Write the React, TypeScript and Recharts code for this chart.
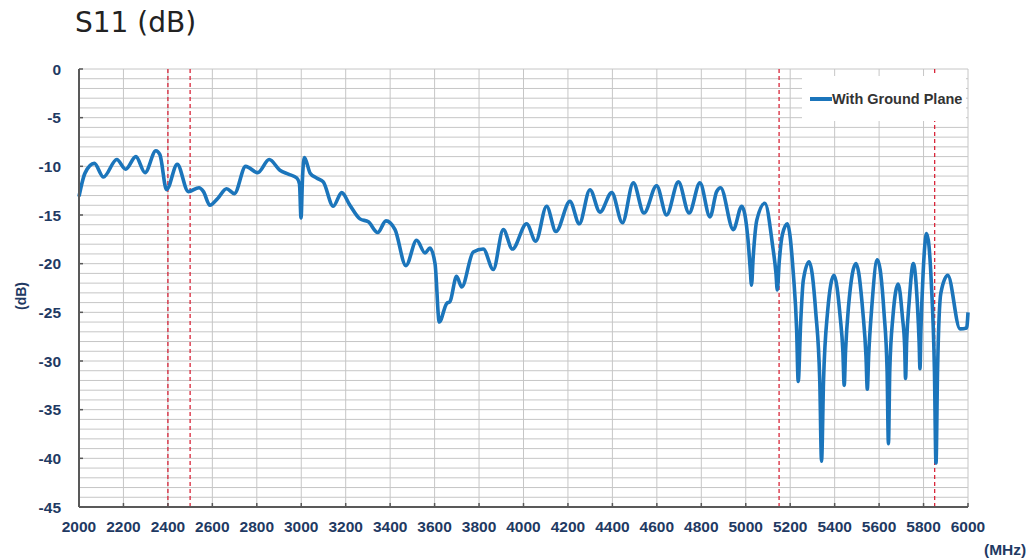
import { LineChart, Line, XAxis, YAxis, CartesianGrid, ReferenceLine, Legend, Label } from "recharts";

// frecuencias (MHz)
const frecuencias = [
  2000, 2027, 2069, 2110, 2170, 2210, 2256, 2297, 2346, 2364, 2394, 2442, 2492, 2540, 2560, 2589,
  2624, 2664, 2699, 2750, 2804, 2856, 2904, 2942, 2980, 2992, 2999, 3006, 3014, 3040, 3069, 3099,
  3144, 3182, 3219, 3264, 3302, 3344, 3381, 3422, 3471, 3519, 3557, 3579, 3602, 3621, 3654, 3669,
  3699, 3722, 3774, 3819, 3864, 3909, 3950, 4014, 4055, 4104, 4146, 4209, 4251, 4299, 4344, 4397,
  4445, 4494, 4542, 4599, 4644, 4697, 4745, 4794, 4839, 4869, 4887, 4944, 4982, 5010, 5020, 5026,
  5033, 5050, 5086, 5120, 5136, 5142, 5150, 5165, 5187, 5214, 5229, 5236, 5247, 5259, 5285, 5315,
  5333, 5341, 5350, 5368, 5397, 5425, 5437, 5443, 5449, 5462, 5496, 5527, 5541, 5547, 5553, 5567,
  5592, 5622, 5636, 5642, 5648, 5662, 5686, 5705, 5715, 5719, 5724, 5735, 5754, 5773, 5780, 5784,
  5788, 5798, 5814, 5835, 5849, 5856, 5863, 5878, 5909, 5964, 5994, 6000,
];

// S11 con plano de masa (dB)
const conPlanoMasa = [
  -13.1, -10.7, -9.7, -11.1, -9.3, -10.3, -9.0, -10.65, -8.4, -8.8, -12.4, -9.8, -12.6, -12.2, -12.6, -14.0,
  -13.3, -12.3, -12.8, -10.0, -10.65, -9.3, -10.4, -10.8, -11.2, -11.8, -15.3, -11.0, -9.1, -10.7, -11.2, -11.6,
  -14.1, -12.7, -14.0, -15.4, -15.7, -16.8, -15.6, -16.5, -20.2, -17.6, -18.9, -18.4, -20.0, -26.0, -24.1, -23.9,
  -21.3, -22.4, -18.8, -18.5, -20.6, -16.5, -18.5, -15.9, -17.7, -14.1, -16.7, -13.6, -15.9, -12.4, -14.7, -12.7,
  -15.8, -11.7, -14.8, -12.0, -15.0, -11.6, -14.8, -11.7, -15.2, -12.6, -12.2, -16.5, -14.1, -17.5, -20.5, -22.2,
  -19.5, -15.5, -13.8, -18.0, -21.0, -22.7, -20.0, -17.0, -15.9, -21.0, -26.8, -32.1, -26.1, -21.7, -19.8, -25.0,
  -32.0, -40.3, -32.0, -25.0, -21.2, -25.5, -29.0, -32.5, -29.0, -24.5, -20.0, -25.0, -29.5, -32.9, -29.5, -24.5,
  -19.6, -25.0, -31.0, -38.5, -31.0, -25.5, -22.1, -25.5, -28.5, -31.8, -28.0, -24.0, -20.0, -24.5, -28.0, -30.8,
  -27.0, -21.0, -16.9, -22.0, -31.0, -40.5, -31.0, -23.0, -21.2, -26.7, -26.6, -25.0,
];

const ticksX = [2000, 2200, 2400, 2600, 2800, 3000, 3200, 3400, 3600, 3800, 4000, 4200, 4400, 4600, 4800, 5000, 5200, 5400, 5600, 5800, 6000];
const ticksYPrincipales = [0, -5, -10, -15, -20, -25, -30, -35, -40, -45];
// bandas marcadas con lineas rojas
const limitesBanda = [2400, 2500, 5150, 5850];
const nombreSerie = "With Ground Plane";

// lineas de rejilla cada 1 dB
const ticksY: number[] = [];
for (let v = 0; v >= -45; v--) ticksY.push(v);

const datos = frecuencias.map((f, i) => ({ f, s11: conPlanoMasa[i] }));

const azulTexto = "#1f3a63";
const colorEje = "#595959";
const fuenteEjes = { fontFamily: "'Liberation Sans', Arial, sans-serif", fontSize: 15.5, fontWeight: 700, fill: azulTexto };

// etiqueta del eje X con su marca hacia dentro
function TickX(props: any) {
  const { x, y, payload } = props;
  return (
    <g>
      <line x1={x} x2={x} y1={y - 14} y2={y - 18} stroke={colorEje} strokeWidth={1.5} />
      <text x={x} y={y} dy="0.71em" textAnchor="middle" style={fuenteEjes}>{payload.value}</text>
    </g>
  );
}

// etiqueta del eje Y, solo cada 5 dB
function TickY(props: any) {
  const { x, y, payload } = props;
  if (!ticksYPrincipales.includes(payload.value)) return <g />;
  return (
    <g>
      <line x1={x + 18} x2={x + 22} y1={y} y2={y} stroke={colorEje} strokeWidth={1.5} />
      <text x={x} y={y} dy="0.355em" textAnchor="end" style={fuenteEjes}>{payload.value}</text>
    </g>
  );
}

function Leyenda() {
  return (
    <div style={{
      background: "#fff",
      width: 164,
      height: 45,
      display: "flex",
      alignItems: "center",
      fontFamily: "'Liberation Sans', Arial, sans-serif",
      fontWeight: 700,
      fontSize: 14.5,
      color: "#333",
    }}>
      <span style={{ display: "inline-block", width: 22, height: 4, background: "#1b75bb", marginLeft: 8 }} />
      <span>{nombreSerie}</span>
    </div>
  );
}

export default function App() {
  return (
    <div style={{ position: "absolute", left: 0, top: 0, width: 1035, height: 559, background: "#fff" }}>
      <div style={{
        position: "absolute", left: 75, top: 9, fontFamily: "'DejaVu Sans', Verdana, sans-serif",
        fontSize: 28, lineHeight: 1, color: "#222",
      }}>S11 (dB)</div>
      <LineChart width={1035} height={559} data={datos} margin={{ top: 69, right: 67, bottom: 22, left: 19 }}>
        <CartesianGrid stroke="#c6c6c6" strokeWidth={1} />
        <XAxis
          dataKey="f"
          type="number"
          domain={[2000, 6000]}
          ticks={ticksX}
          interval={0}
          height={30}
          tickSize={6}
          tickMargin={8}
          tickLine={false}
          axisLine={{ stroke: colorEje, strokeWidth: 2 }}
          tick={<TickX />}
        >
          <Label value="(MHz)" position="right" offset={16} dy={27} style={fuenteEjes} />
        </XAxis>
        <YAxis
          type="number"
          domain={[-45, 0]}
          ticks={ticksY}
          interval={0}
          width={60}
          tickSize={6}
          tickMargin={12}
          tickLine={false}
          axisLine={{ stroke: colorEje, strokeWidth: 2 }}
          tick={<TickY />}
        >
          <Label
            content={() => (
              <text x={21} y={296} transform="rotate(-90 21 296)" dy="0.355em" textAnchor="middle" style={{ ...fuenteEjes, fontSize: 14 }}>
                (dB)
              </text>
            )}
          />
        </YAxis>
        {limitesBanda.map((x) => (
          <ReferenceLine key={x} x={x} stroke="#d9263a" strokeWidth={1.3} strokeDasharray="4 3" />
        ))}
        <Legend
          layout="horizontal"
          verticalAlign="middle"
          content={() => <Leyenda />}
          wrapperStyle={{ top: 76, left: 802, width: 164 }}
        />
        <Line
          type="monotone"
          dataKey="s11"
          name={nombreSerie}
          stroke="#1b75bb"
          strokeWidth={3.6}
          dot={false}
          isAnimationActive={false}
        />
      </LineChart>
    </div>
  );
}
